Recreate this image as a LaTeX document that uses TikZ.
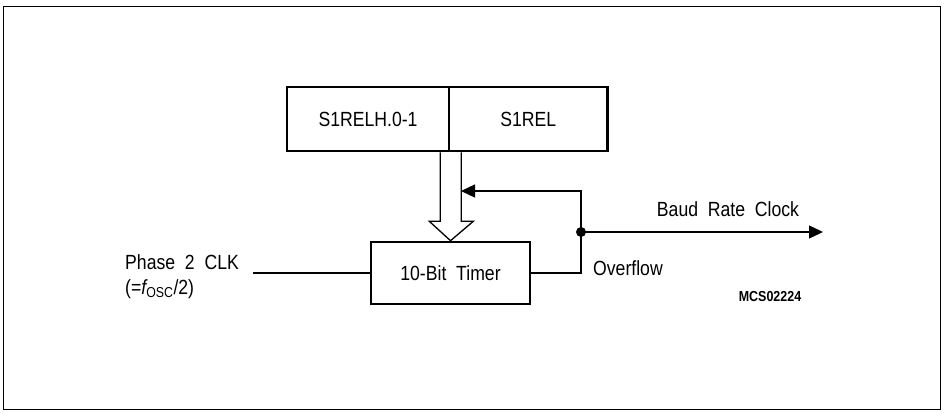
\documentclass[tikz,border=0pt]{standalone}
\usepackage{fontspec}
\setmainfont{Liberation Sans}[WordSpace=2,FakeStretch=0.86]
\usetikzlibrary{arrows.meta,calc}
\begin{document}
\begin{tikzpicture}[x=1pt,y=-1pt,
  regbox/.style={draw,line width=2.6pt,minimum height=64pt,inner sep=0pt,font=\fontsize{20.5}{22}\selectfont},
  lbl/.style={font=\fontsize{20.5}{25}\selectfont,inner sep=0pt},
  wire/.style={line width=1.3pt},
  tip/.style={-{Triangle[length=14pt,width=13pt]}}]
\useasboundingbox (0,0) rectangle (944,415);
\draw[line width=1pt] (3,6) rectangle (940,409);
% registers
\node[regbox,minimum width=162pt] (hi) at (368,119) {S1RELH.0-1};
\node[regbox,minimum width=158.6pt,anchor=west] (lo) at ($(hi.east)+(-2.6,0)$) {S1REL};
% timer
\node[regbox,minimum width=159pt,minimum height=62pt] (timer) at (450.5,273) {10-Bit Timer};
% hollow arrow
\draw[wire,line join=miter] ($(hi.south east)+(-10,0)$) -- ($(hi.south east)+(-10,69)$) -- ($(hi.south east)+(-21,69)$)
  -- (timer.north) -- ($(hi.south east)+(23,69)$) -- ($(hi.south east)+(11,69)$) -- ($(hi.south east)+(11,0)$);
% clock input
\node[lbl,anchor=west,align=left] (phase) at (125,277) {Phase 2 CLK\\(={\itshape f}\textsubscript{OSC}/2)};
\coordinate (clkin) at (253,273);
\draw[wire] (clkin) -- (timer.west);
% overflow
\coordinate (j) at (581,232);
\coordinate (fb) at (581,191);
\coordinate (fbend) at (461,191);
\coordinate (out) at (823,232);
\draw[wire] (timer.east) -| (j);
\draw[wire,tip] (j) -- (fb) -- (fbend);
\draw[wire,tip] (j) -- (out);
\fill (j) circle (5pt);
\node[lbl,anchor=west] (ovf) at (593,268) {Overflow};
\node[lbl] (baud) at (728,209) {Baud Rate Clock};
\node[font=\fontsize{14.5}{15}\selectfont\bfseries,inner sep=0pt] (code) at (770,297) {MCS02224};
\end{tikzpicture}
\end{document}
